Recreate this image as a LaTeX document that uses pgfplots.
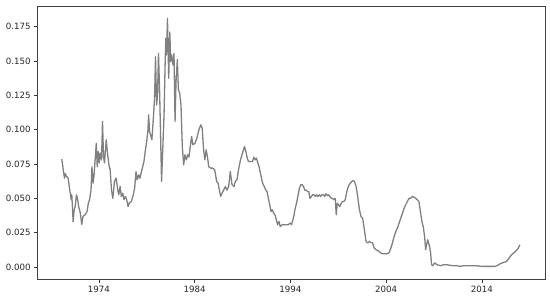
\documentclass[border=0pt]{standalone}
\usepackage{fontspec}
\setmainfont{DejaVu Sans}
\usepackage{pgfplots}
\pgfplotsset{compat=1.18}

\definecolor{linegray}{RGB}{128,128,128}

\begin{document}
\begin{tikzpicture}
\begin{axis}[
    name=ax,
    scale only axis,
    width=507.3bp,
    height=273bp,
    xmin=1967.6, xmax=2020.6,
    ymin=-0.0087, ymax=0.190,
    xtick={1974,1984,1994,2004,2014},
    xticklabels={1974,1984,1994,2004,2014},
    ytick={0,0.025,0.05,0.075,0.1,0.125,0.15,0.175},
    yticklabel style={/pgf/number format/.cd, fixed, fixed zerofill, precision=3},
    /pgf/number format/assume math mode=true,
    tick label style={font=\fontsize{8.7}{10}\selectfont, text=black!85},
    tick pos=left,
    tick align=outside,
    major tick length=3.5bp,
    every tick/.style={black!80, line width=0.6bp},
    axis line style={black!75, line width=0.7bp},
    clip=false,
]
\addplot[linegray, line width=1.3bp, line join=round] coordinates {
(1970.12,0.0785) (1970.27,0.0708) (1970.40,0.0647) (1970.47,0.0680) (1970.61,0.0660)
(1970.78,0.0647) (1970.95,0.0560) (1971.10,0.0490) (1971.16,0.0526) (1971.23,0.0440)
(1971.30,0.0330) (1971.41,0.0417) (1971.51,0.0440) (1971.65,0.0526) (1971.75,0.0500)
(1971.88,0.0440) (1972.06,0.0390) (1972.20,0.0310) (1972.34,0.0370) (1972.55,0.0380)
(1972.76,0.0405) (1972.89,0.0465) (1973.02,0.0490) (1973.17,0.0560) (1973.27,0.0730)
(1973.38,0.0610) (1973.48,0.0660) (1973.62,0.0800) (1973.72,0.0900) (1973.82,0.0730)
(1973.93,0.0840) (1974.03,0.0757) (1974.13,0.0830) (1974.27,0.0780) (1974.37,0.1060)
(1974.48,0.0800) (1974.58,0.0757) (1974.76,0.0926) (1974.89,0.0830) (1975.04,0.0744)
(1975.17,0.0708) (1975.31,0.0560) (1975.45,0.0500) (1975.62,0.0623) (1975.79,0.0647)
(1975.97,0.0560) (1976.07,0.0526) (1976.21,0.0586) (1976.34,0.0514) (1976.49,0.0538)
(1976.62,0.0490) (1976.76,0.0514) (1976.90,0.0490) (1977.04,0.0440) (1977.17,0.0465)
(1977.38,0.0477) (1977.59,0.0526) (1977.73,0.0575) (1977.87,0.0695) (1978.00,0.0635)
(1978.15,0.0671) (1978.28,0.0647) (1978.49,0.0708) (1978.70,0.0768) (1978.83,0.0840)
(1978.98,0.0913) (1979.11,0.0986) (1979.19,0.1108) (1979.29,0.0986) (1979.39,0.0962)
(1979.53,0.0926) (1979.66,0.1060) (1979.81,0.1230) (1979.91,0.1530) (1980.02,0.1180)
(1980.12,0.1250) (1980.22,0.1556) (1980.33,0.1300) (1980.43,0.0986) (1980.54,0.0623)
(1980.67,0.0866) (1980.80,0.1108) (1980.91,0.1470) (1980.98,0.1666) (1981.05,0.1544)
(1981.16,0.1810) (1981.22,0.1590) (1981.29,0.1375) (1981.40,0.1710) (1981.50,0.1495)
(1981.60,0.1544) (1981.74,0.1470) (1981.84,0.1556) (1981.95,0.1060) (1982.05,0.1350)
(1982.19,0.1510) (1982.30,0.1290) (1982.43,0.1266) (1982.57,0.1180) (1982.71,0.0877)
(1982.85,0.0744) (1982.98,0.0817) (1983.13,0.0780) (1983.26,0.0817) (1983.40,0.0800)
(1983.54,0.0877) (1983.68,0.0950) (1983.81,0.0890) (1984.02,0.0900) (1984.23,0.0938)
(1984.44,0.0999) (1984.64,0.1035) (1984.79,0.1010) (1984.92,0.0866) (1985.06,0.0780)
(1985.20,0.0853) (1985.34,0.0800) (1985.47,0.0730) (1985.68,0.0720) (1985.89,0.0720)
(1986.09,0.0708) (1986.30,0.0623) (1986.45,0.0610) (1986.58,0.0560) (1986.72,0.0514)
(1986.86,0.0538) (1987.03,0.0560) (1987.21,0.0586) (1987.38,0.0560) (1987.55,0.0586)
(1987.72,0.0695) (1987.90,0.0600) (1988.11,0.0586) (1988.24,0.0623) (1988.42,0.0635)
(1988.58,0.0708) (1988.79,0.0780) (1989.00,0.0830) (1989.21,0.0877) (1989.35,0.0840)
(1989.49,0.0793) (1989.62,0.0768) (1989.83,0.0768) (1990.04,0.0768) (1990.18,0.0800)
(1990.32,0.0780) (1990.45,0.0793) (1990.60,0.0757) (1990.73,0.0730) (1990.87,0.0684)
(1991.01,0.0635) (1991.15,0.0600) (1991.28,0.0586) (1991.43,0.0560) (1991.56,0.0550)
(1991.70,0.0500) (1991.84,0.0453) (1991.98,0.0404) (1992.11,0.0417) (1992.26,0.0390)
(1992.39,0.0380) (1992.53,0.0344) (1992.67,0.0308) (1992.81,0.0332) (1992.94,0.0295)
(1993.15,0.0308) (1993.36,0.0308) (1993.56,0.0308) (1993.77,0.0308) (1993.98,0.0320)
(1994.12,0.0308) (1994.26,0.0344) (1994.39,0.0380) (1994.47,0.0417) (1994.64,0.0465)
(1994.81,0.0526) (1994.95,0.0575) (1995.09,0.0600) (1995.22,0.0600) (1995.37,0.0586)
(1995.50,0.0560) (1995.64,0.0560) (1995.78,0.0550) (1995.92,0.0550) (1996.05,0.0500)
(1996.20,0.0514) (1996.33,0.0526) (1996.47,0.0526) (1996.61,0.0514) (1996.75,0.0526)
(1996.88,0.0514) (1997.03,0.0526) (1997.16,0.0514) (1997.30,0.0526) (1997.44,0.0526)
(1997.58,0.0514) (1997.71,0.0533) (1997.86,0.0520) (1997.99,0.0526) (1998.13,0.0514)
(1998.27,0.0500) (1998.41,0.0500) (1998.54,0.0490) (1998.69,0.0500) (1998.79,0.0380)
(1998.90,0.0465) (1999.03,0.0453) (1999.16,0.0440) (1999.31,0.0465) (1999.45,0.0477)
(1999.58,0.0477) (1999.73,0.0490) (1999.86,0.0538) (1999.99,0.0575) (2000.14,0.0600)
(2000.27,0.0610) (2000.41,0.0623) (2000.55,0.0630) (2000.69,0.0623) (2000.87,0.0586)
(2001.03,0.0514) (2001.21,0.0417) (2001.38,0.0368) (2001.55,0.0356) (2001.73,0.0271)
(2001.90,0.0186) (2002.07,0.0175) (2002.25,0.0186) (2002.42,0.0179) (2002.59,0.0175)
(2002.76,0.0138) (2002.94,0.0126) (2003.11,0.0121) (2003.28,0.0113) (2003.46,0.0102)
(2003.62,0.0097) (2003.80,0.0097) (2003.98,0.0097) (2004.14,0.0097) (2004.32,0.0106)
(2004.50,0.0138) (2004.66,0.0175) (2004.84,0.0223) (2005.02,0.0259) (2005.18,0.0284)
(2005.36,0.0320) (2005.53,0.0356) (2005.70,0.0390) (2005.88,0.0429) (2006.05,0.0453)
(2006.22,0.0477) (2006.39,0.0500) (2006.57,0.0500) (2006.74,0.0514) (2006.91,0.0509)
(2007.09,0.0500) (2007.26,0.0490) (2007.43,0.0477) (2007.61,0.0390) (2007.77,0.0320)
(2007.88,0.0295) (2008.02,0.0223) (2008.13,0.0126) (2008.23,0.0162) (2008.34,0.0199)
(2008.44,0.0175) (2008.54,0.0150) (2008.65,0.0102) (2008.75,0.0017) (2008.88,0.0010)
(2009.06,0.0030) (2009.33,0.0017) (2009.68,0.0010) (2010.03,0.0017) (2010.37,0.0017)
(2010.72,0.0012) (2011.06,0.0010) (2011.41,0.0010) (2011.76,0.0005) (2012.10,0.0010)
(2012.44,0.0010) (2012.79,0.0010) (2013.14,0.0010) (2013.31,0.0010) (2014.00,0.0005)
(2014.69,0.0005) (2015.39,0.0005) (2015.66,0.0012) (2015.91,0.0024) (2016.25,0.0033)
(2016.59,0.0041) (2016.84,0.0065) (2017.11,0.0090) (2017.39,0.0106) (2017.63,0.0121)
(2017.81,0.0138) (2017.98,0.0162)
};
\end{axis}
\pgfresetboundingbox
\path[use as bounding box] ([xshift=-37.7bp,yshift=-22bp]ax.south west) rectangle ([xshift=5bp,yshift=6bp]ax.north east);
\end{tikzpicture}
\end{document}
